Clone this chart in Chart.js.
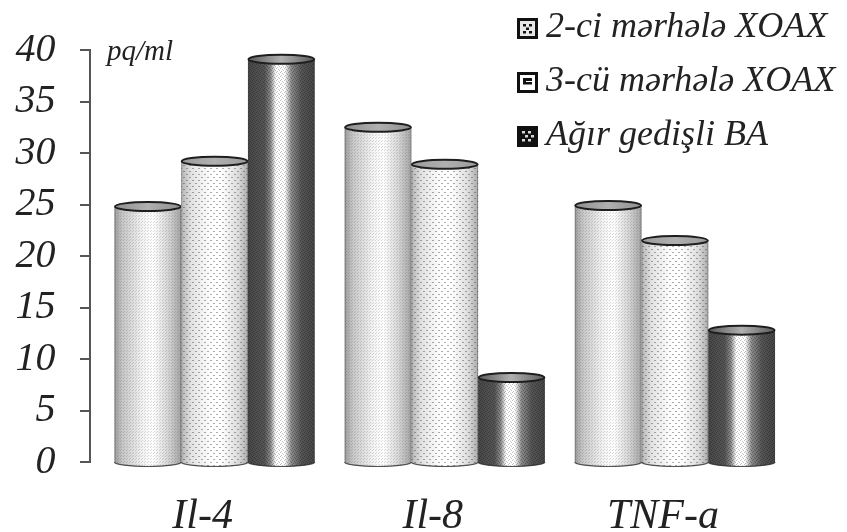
<!DOCTYPE html>
<html>
<head>
<meta charset="utf-8">
<script src="https://cdn.jsdelivr.net/npm/chart.js@4/dist/chart.umd.min.js"></script>
<style>
  html, body { margin: 0; padding: 0; background: #fff; }
  #wrap { width: 847px; height: 532px; }
</style>
</head>
<body>
<div id="wrap"><canvas id="c" width="847" height="532"></canvas></div>
<script>
// Cytokine levels, pq/ml
const categories = ['Il-4', 'Il-8', 'TNF-a'];
const seriesNames = ['2-ci mərhələ XOAX', '3-cü mərhələ XOAX', 'Ağır gedişli BA'];
const stage2Values = [24.8, 32.5, 24.9];
const stage3Values = [29.2, 28.9, 21.5];
const severeValues = [39.1, 8.2, 12.8];
const yMin = 0;
const yMax = 40;
const yStep = 5;
const unitLabel = 'pq/ml';

const SERIF = "'Liberation Serif', 'Times New Roman', Times, serif";
const INK = '#222';

function makeTexture(w, h, draw) {
  const cv = document.createElement('canvas');
  cv.width = w; cv.height = h;
  draw(cv.getContext('2d'));
  return cv;
}
const textures = [
  makeTexture(3, 3, g => { g.fillStyle = 'rgba(90,90,90,0.22)'; g.fillRect(0, 0, 1, 1); g.fillRect(1, 2, 1, 1); }),
  makeTexture(6, 6, g => { g.fillStyle = 'rgba(70,70,70,0.45)'; g.fillRect(0, 0, 2, 1); g.fillRect(3, 3, 2, 1); }),
  makeTexture(4, 4, g => { g.fillStyle = 'rgba(0,0,0,0.25)'; g.fillRect(0, 0, 1, 1); g.fillRect(2, 1, 1, 1); g.fillRect(1, 3, 1, 1); g.fillRect(3, 2, 1, 1); })
];

// horizontal shading of each cylinder: [offset, colour]
const shading = [
  [[0, '#9c9c9c'], [0.12, '#c6c6c6'], [0.42, '#f2f2f2'], [0.58, '#ffffff'], [0.82, '#d2d2d2'], [1, '#a2a2a2']],
  [[0, '#b4b4b4'], [0.15, '#e2e2e2'], [0.45, '#ffffff'], [0.6, '#ffffff'], [0.85, '#dcdcdc'], [1, '#ababab']],
  [[0, '#474747'], [0.25, '#555555'], [0.34, '#8a8a8a'], [0.42, '#ffffff'], [0.55, '#ffffff'], [0.65, '#8a8a8a'], [0.8, '#555555'], [1, '#444444']]
];
const capFill = ['#8e8e8e', '#9a9a9a', '#5a5a5a'];

const cylinderPlugin = {
  id: 'cylinders',
  afterDatasetsDraw(chart) {
    const ctx = chart.ctx;
    const ry = 4.5;
    chart.data.datasets.forEach((ds, di) => {
      const meta = chart.getDatasetMeta(di);
      meta.data.forEach(bar => {
        const p = bar.getProps(['x', 'y', 'width', 'base'], true);
        const left = p.x - p.width / 2, right = p.x + p.width / 2;
        const rx = p.width / 2;
        const top = p.y, base = p.base;
        ctx.save();
        // body: straight sides, rounded bottom
        ctx.beginPath();
        ctx.moveTo(left, top);
        ctx.lineTo(left, base);
        ctx.ellipse(p.x, base, rx, ry, 0, Math.PI, 0, true);
        ctx.lineTo(right, top);
        ctx.closePath();
        const grad = ctx.createLinearGradient(left, 0, right, 0);
        shading[di].forEach(s => grad.addColorStop(s[0], s[1]));
        ctx.fillStyle = grad;
        ctx.fill();
        ctx.fillStyle = ctx.createPattern(textures[di], 'repeat');
        ctx.fill();
        // bottom rim
        ctx.beginPath();
        ctx.ellipse(p.x, base, rx, ry, 0, 0, Math.PI, false);
        ctx.strokeStyle = 'rgba(40,40,40,0.8)';
        ctx.lineWidth = 1.2;
        ctx.stroke();
        // side edges
        ctx.beginPath();
        ctx.moveTo(left + 0.5, top); ctx.lineTo(left + 0.5, base);
        ctx.moveTo(right - 0.5, top); ctx.lineTo(right - 0.5, base);
        ctx.strokeStyle = 'rgba(60,60,60,0.35)';
        ctx.lineWidth = 1;
        ctx.stroke();
        // top cap
        ctx.beginPath();
        ctx.ellipse(p.x, top, rx - 0.5, ry, 0, 0, Math.PI * 2);
        const capGrad = ctx.createLinearGradient(left, 0, right, 0);
        capGrad.addColorStop(0, capFill[di]);
        capGrad.addColorStop(0.5, '#b0b0b0');
        capGrad.addColorStop(1, capFill[di]);
        ctx.fillStyle = capGrad;
        ctx.fill();
        ctx.strokeStyle = '#1e1e1e';
        ctx.lineWidth = 2;
        ctx.stroke();
        ctx.restore();
      });
    });
  }
};

// value axis line with outward tick marks, set slightly left of the plot
const axisPlugin = {
  id: 'valueAxis',
  afterDraw(chart) {
    const ctx = chart.ctx;
    const y = chart.scales.y;
    const x0 = Math.round(chart.chartArea.left - 10);
    ctx.save();
    ctx.strokeStyle = '#555';
    ctx.lineWidth = 2;
    ctx.beginPath();
    ctx.moveTo(x0, y.getPixelForValue(yMax) - 1);
    ctx.lineTo(x0, y.getPixelForValue(yMin) + 1);
    y.ticks.forEach(t => {
      const py = Math.round(y.getPixelForValue(t.value));
      ctx.moveTo(x0 - 10, py);
      ctx.lineTo(x0, py);
    });
    ctx.stroke();
    ctx.fillStyle = INK;
    ctx.font = `italic 29px ${SERIF}`;
    ctx.textAlign = 'left';
    ctx.textBaseline = 'alphabetic';
    ctx.fillText(unitLabel, x0 + 17, y.getPixelForValue(yMax) + 10);
    ctx.restore();
  }
};

function swatch(ctx, i, x, y, s) {
  ctx.fillStyle = '#111';
  ctx.fillRect(x, y, s, s);
  if (i === 0) {
    ctx.fillStyle = '#e6e6e6';
    ctx.fillRect(x + 3, y + 3, s - 6, s - 6);
    ctx.fillStyle = '#111';
    [[6, 6], [12, 6], [9, 9.5], [6, 13], [12, 13]].forEach(d => ctx.fillRect(x + d[0], y + d[1], 3, 2.5));
  } else if (i === 1) {
    ctx.fillStyle = '#fff';
    ctx.fillRect(x + 3, y + 3, s - 6, s - 6);
    ctx.fillStyle = '#111';
    ctx.fillRect(x + 6, y + 6, 9, 3);
    ctx.fillRect(x + 6, y + 6, 3, 6);
    ctx.fillRect(x + 6, y + 10, 9, 2.5);
  } else {
    ctx.fillStyle = '#d8d8d8';
    [[5, 5], [11, 5], [8, 9], [14, 9], [5, 13], [11, 13]].forEach(d => ctx.fillRect(x + d[0], y + d[1], 3, 2.5));
  }
}

const legendPlugin = {
  id: 'sideLegend',
  afterDraw(chart) {
    const ctx = chart.ctx;
    ctx.save();
    ctx.font = `italic 36px ${SERIF}`;
    ctx.textAlign = 'left';
    ctx.textBaseline = 'alphabetic';
    seriesNames.forEach((name, i) => {
      const baseY = 37 + i * 54;
      swatch(ctx, i, 517, baseY - 19, 21);
      ctx.fillStyle = INK;
      ctx.fillText(name, 546, baseY);
    });
    ctx.restore();
  }
};

const seriesValues = [stage2Values, stage3Values, severeValues];

function build() {
  new Chart(document.getElementById('c'), {
    type: 'bar',
    data: {
      labels: categories,
      datasets: seriesNames.map((name, i) => ({
        label: name,
        data: seriesValues[i],
        backgroundColor: 'rgba(0,0,0,0)',
        borderWidth: 0,
        barPercentage: 1.0,
        categoryPercentage: 0.87
      }))
    },
    options: {
      responsive: false,
      devicePixelRatio: 1,
      animation: false,
      layout: { padding: { top: 50, right: 57, left: 0, bottom: 0 } },
      plugins: { legend: { display: false }, tooltip: { enabled: false } },
      scales: {
        x: {
          grid: { display: false, drawTicks: false },
          border: { display: false },
          ticks: {
            font: { family: SERIF, style: 'italic', size: 42 },
            color: INK,
            padding: 30,
            labelOffset: -12
          },
          afterFit(scale) {
            scale.height = 70;
            scale.paddingLeft = 0;
            scale.paddingRight = 0;
          }
        },
        y: {
          min: yMin,
          max: yMax,
          grid: { display: false, drawTicks: false },
          border: { display: false },
          ticks: {
            stepSize: yStep,
            autoSkip: false,
            font: { family: SERIF, style: 'italic', size: 40 },
            color: INK,
            padding: 44
          },
          afterFit(scale) {
            scale.width = 99.5;
            scale.paddingTop = 0;
            scale.paddingBottom = 0;
          }
        }
      }
    },
    plugins: [cylinderPlugin, axisPlugin, legendPlugin]
  });
}

document.fonts.load(`italic 40px 'Liberation Serif'`).catch(() => {}).then(build);
</script>
</body>
</html>
